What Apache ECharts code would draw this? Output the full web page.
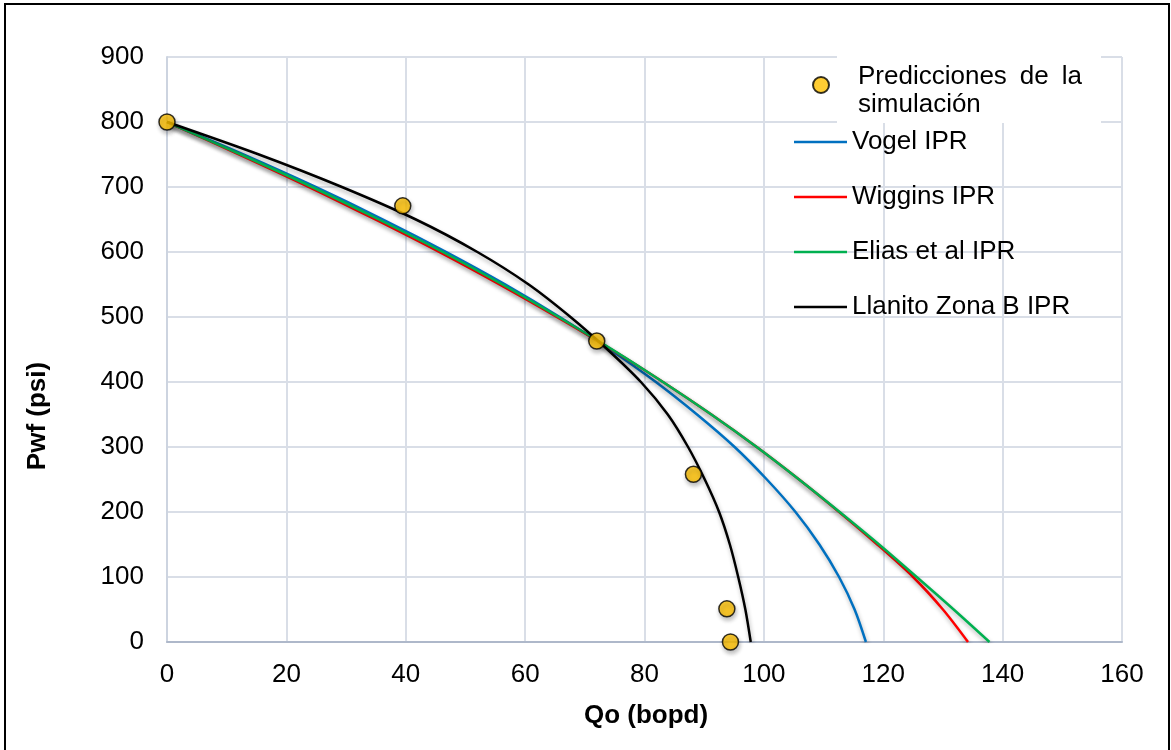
<!DOCTYPE html>
<html>
<head>
<meta charset="utf-8">
<script src="https://cdn.jsdelivr.net/npm/echarts@6/dist/echarts.min.js"></script>
<style>
  html, body { margin: 0; padding: 0; background: #fff; }
  #chart { width: 1171px; height: 750px; }
</style>
</head>
<body>
<div id="chart"></div>
<script>
// Flowing bottom-hole pressure levels (psi) shared by the IPR curves
var pwfLevels = [800, 750, 700, 650, 600, 550, 500, 450, 400, 350, 300, 250, 200, 150, 100, 50, 0];

// Oil rate (bopd) at each pressure level for each IPR model
var qVogel    = [0, 12.8, 24.9, 36.2, 46.8, 56.7, 65.8, 74.2, 81.9, 88.8, 95.1, 100.5, 105.3, 109.3, 112.6, 115.2, 117.1];
var qWiggins  = [0, 12.1, 23.8, 34.9, 45.6, 55.7, 65.3, 74.5, 83.1, 91.2, 98.8, 105.9, 112.6, 119.0, 125.0, 130.0, 134.2];
var qElias    = [0, 12.4, 24.3, 35.5, 46.2, 56.2, 65.6, 74.6, 83.1, 91.2, 98.8, 105.9, 112.7, 119.3, 125.6, 131.8, 137.8];
var qLlanito  = [0, 15.4, 29.3, 41.7, 52.0, 60.6, 67.6, 73.8, 79.4, 83.9, 87.3, 90.1, 92.5, 94.3, 95.7, 96.9, 97.8];

// Simulation predictions
var simQo  = [0, 39.5, 72, 88.2, 93.8, 94.4];
var simPwf = [800, 671, 463, 258, 51, 0];

// Axis ticks
var xTicks = { min: 0, max: 160, interval: 20 };
var yTicks = { min: 0, max: 900, interval: 100 };

var seriesNames = {
  sim: 'Predicciones de la simulación',
  vogel: 'Vogel IPR',
  wiggins: 'Wiggins IPR',
  elias: 'Elias et al IPR',
  llanito: 'Llanito Zona B IPR'
};

function pairs(qs, ps) {
  return qs.map(function (q, i) { return [q, ps[i]]; });
}

var FONT = "'Liberation Sans', Arial, sans-serif";
var shadow = { shadowColor: 'rgba(0,0,0,0.30)', shadowBlur: 4, shadowOffsetX: 1, shadowOffsetY: 3 };

function curve(name, qs, color) {
  return {
    name: name,
    type: 'line',
    data: pairs(qs, pwfLevels),
    symbol: 'none',
    smooth: 0.3,
    z: 3,
    lineStyle: Object.assign({ color: color, width: 2.5 }, shadow),
    itemStyle: { color: color }
  };
}

var chart = echarts.init(document.getElementById('chart'), null, { renderer: 'canvas' });

chart.setOption({
  animation: false,
  backgroundColor: '#ffffff',
  textStyle: { fontFamily: FONT },
  grid: { left: 167, right: 49, top: 57, bottom: 108, containLabel: false },
  xAxis: {
    type: 'value',
    min: xTicks.min, max: xTicks.max, interval: xTicks.interval,
    axisLine: { show: true, lineStyle: { color: '#AEB8CA', width: 2 } },
    axisTick: { show: false },
    axisLabel: { color: '#000', fontSize: 26, fontFamily: FONT, margin: 20 },
    splitLine: { show: true, lineStyle: { color: '#D9DEE7', width: 2 } }
  },
  yAxis: {
    type: 'value',
    min: yTicks.min, max: yTicks.max, interval: yTicks.interval,
    axisLine: { show: true, lineStyle: { color: '#CDD4E0', width: 2 } },
    axisTick: { show: false },
    axisLabel: { color: '#000', fontSize: 26, fontFamily: FONT, margin: 23 },
    splitLine: { show: true, lineStyle: { color: '#D9DEE7', width: 2 } }
  },
  legend: [
    {
      data: [seriesNames.sim],
      orient: 'vertical',
      left: 812, top: 51,
      padding: 0,
      itemWidth: 16, itemHeight: 16,
      formatter: function () {
        return '{s| }\n{t|Predicciones\u2002de\u2002la}\n{t|simulación}';
      },
      textStyle: {
        color: '#000', fontSize: 26, fontFamily: FONT, lineHeight: 28,
        rich: {
          s: { fontSize: 2, lineHeight: 12 },
          t: { color: '#000', fontSize: 26, fontFamily: FONT, lineHeight: 28, padding: [0, 0, 0, 24] }
        }
      }
    },
    {
      data: [
        { name: seriesNames.vogel, icon: 'rect' },
        { name: seriesNames.wiggins, icon: 'rect' },
        { name: seriesNames.elias, icon: 'rect' },
        { name: seriesNames.llanito, icon: 'rect' }
      ],
      orient: 'vertical',
      left: 794, top: 128,
      padding: 0,
      itemWidth: 53, itemHeight: 2.5, itemGap: 27,
      textStyle: { color: '#000', fontSize: 26, fontFamily: FONT, lineHeight: 28 }
    }
  ],
  graphic: [
    {
      type: 'rect', z: 1, silent: true,
      shape: { x: 837, y: 44, width: 264, height: 79 },
      style: { fill: '#ffffff' }
    },
    {
      type: 'rect', z: 10, silent: true,
      shape: { x: 5, y: 4, width: 1164, height: 800 },
      style: { fill: 'none', stroke: '#000', lineWidth: 2 }
    },
    {
      type: 'text', z: 10, silent: true,
      x: 646, y: 716,
      style: { text: 'Qo (bopd)', fill: '#000', font: 'bold 26px ' + FONT, textAlign: 'center', textVerticalAlign: 'middle' }
    },
    {
      type: 'text', z: 10, silent: true,
      x: 38, y: 416, rotation: Math.PI / 2,
      style: { text: 'Pwf (psi)', fill: '#000', font: 'bold 26px ' + FONT, textAlign: 'center', textVerticalAlign: 'middle' }
    }
  ],
  series: [
    curve(seriesNames.vogel, qVogel, '#0070C0'),
    curve(seriesNames.wiggins, qWiggins, '#FF0000'),
    curve(seriesNames.elias, qElias, '#00B050'),
    curve(seriesNames.llanito, qLlanito, '#000000'),
    {
      name: seriesNames.sim,
      type: 'scatter',
      data: pairs(simQo, simPwf),
      symbol: 'circle',
      symbolSize: 16,
      z: 5,
      itemStyle: Object.assign({ color: '#FFC000', borderColor: '#000', borderWidth: 1.5 }, shadow)
    }
  ]
});
</script>
</body>
</html>
